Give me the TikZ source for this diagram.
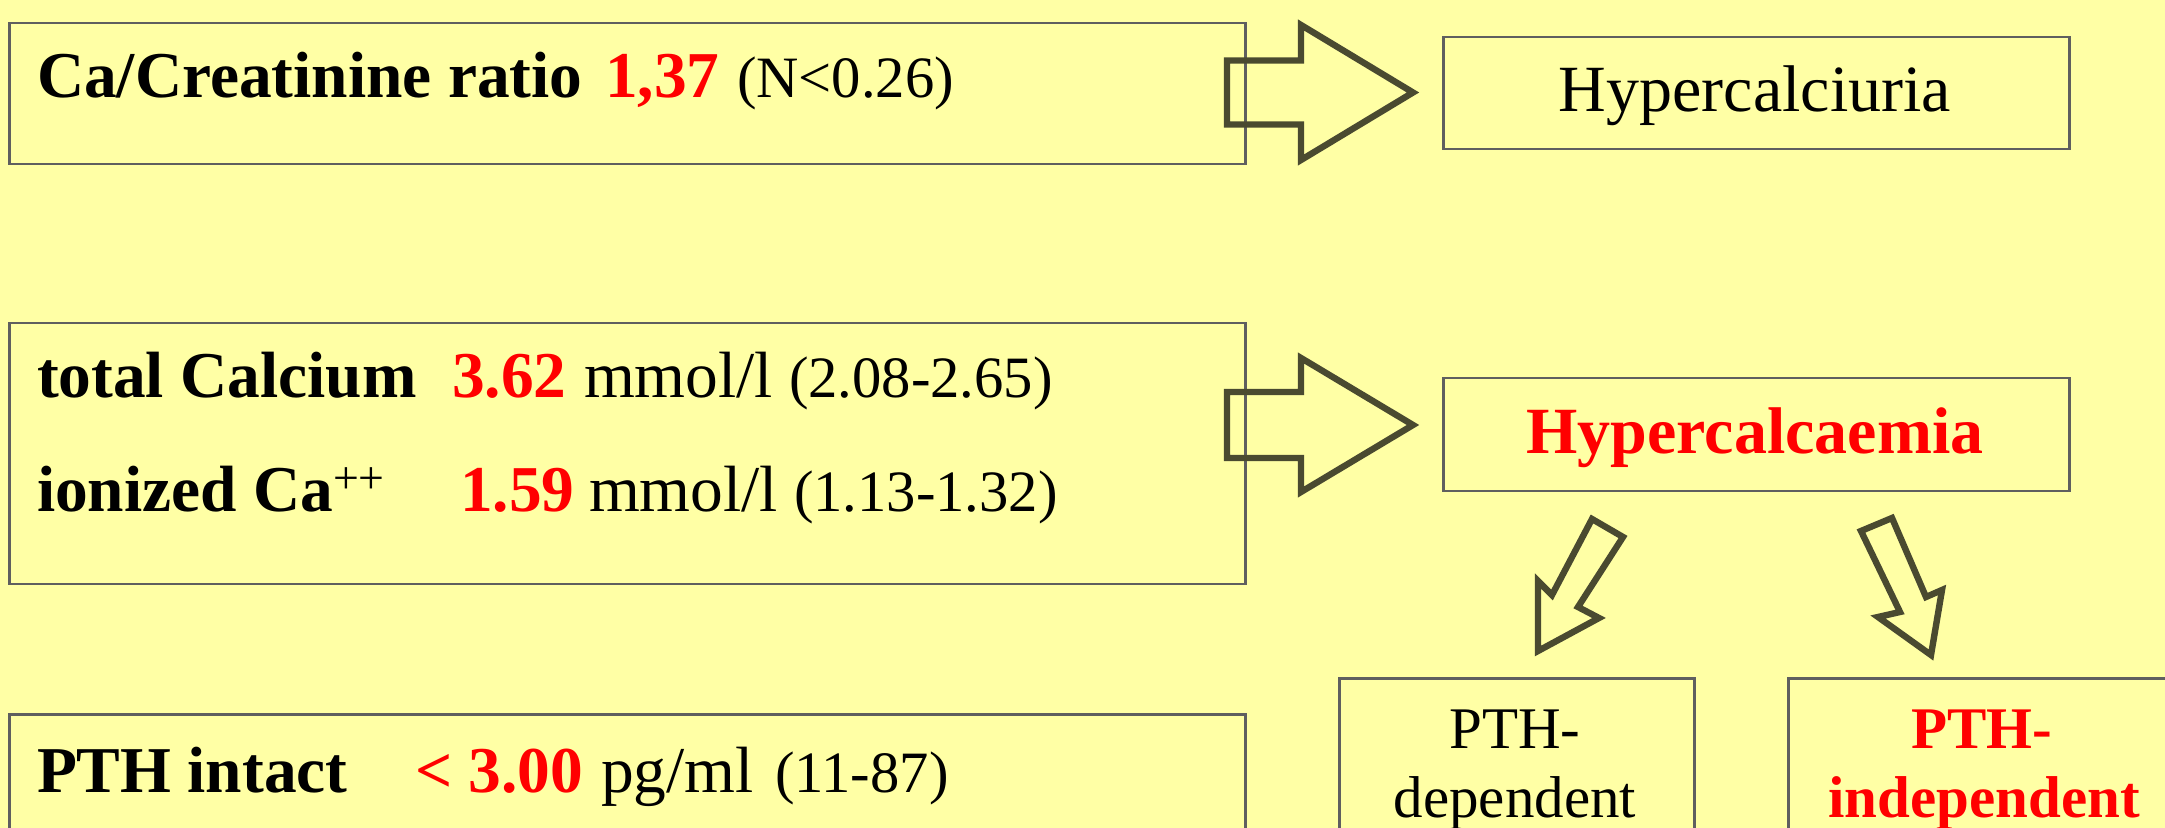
\documentclass[tikz,border=0pt]{standalone}
\usepackage{fontspec}
\setmainfont{Liberation Serif}
\definecolor{bg}{RGB}{255,255,165}
\definecolor{boxline}{RGB}{95,95,95}
\definecolor{arr}{RGB}{74,74,48}
\definecolor{myred}{RGB}{255,0,0}
\begin{document}
\begin{tikzpicture}[x=0.5pt,y=-0.5pt,
  box/.style={draw=boxline, line width=1.25pt, fill=bg, inner sep=0pt, anchor=north west},
  blk/.style={draw=arr, line width=3.2pt, line join=miter},
  main/.style={inner sep=0pt, outer sep=0pt, anchor=base west, font=\fontsize{32.7}{38}\selectfont},
  mainb/.style={main, font=\fontsize{32.7}{38}\selectfont\bfseries},
  redb/.style={mainb, text=myred},
  small/.style={main, font=\fontsize{29.3}{34}\selectfont},
  rtext/.style={inner sep=0pt, outer sep=0pt, anchor=base, font=\fontsize{33}{40}\selectfont},
  btext/.style={inner sep=0pt, outer sep=0pt, anchor=base, font=\fontsize{29.5}{35}\selectfont}
]
\fill[bg] (0,0) rectangle (2165,828);
\useasboundingbox (0,0) rectangle (2165,828);
\begin{scope}
\clip (0,0) rectangle (2165,828);
% boxes
\node[box, minimum width=618pt, minimum height=70.5pt] (b1) at (8,22) {};
\node[box, minimum width=313pt, minimum height=56pt] (hc) at (1442,36) {};
\node[box, minimum width=618pt, minimum height=130.5pt] (b2) at (8,322) {};
\node[box, minimum width=313pt, minimum height=56.5pt] (hcm) at (1442,377) {};
\node[box, minimum width=618pt, minimum height=95pt] (b3) at (8,713) {};
\node[box, minimum width=177.5pt, minimum height=112pt] (pd) at (1338,677) {};
\node[box, minimum width=199pt, minimum height=112pt] (pi) at (1787,677) {};
% block arrows
\draw[blk] (1227,60.5) -- (1301,60.5) -- (1301,25) -- (1413,92.5) -- (1301,160) -- (1301,124.5) -- (1227,124.5) -- cycle;
\draw[blk] (1227,392) -- (1301,392) -- (1301,358) -- (1413,425) -- (1301,492) -- (1301,458) -- (1227,458) -- cycle;
\draw[blk] (1592,519) -- (1623,537) -- (1578,607) -- (1599,618) -- (1538,651) -- (1538,581) -- (1552,595) -- cycle;
\draw[blk] (1861,531) -- (1892,518) -- (1926,597) -- (1942,590) -- (1931,655) -- (1878,617) -- (1900,612) -- cycle;
% texts
\node[mainb] (t1a) at (37,98) {Ca/Creatinine ratio};
\node[redb] (t1b) at (605,98) {1,37};
\node[small] (t1c) at (737,98) {(N<0.26)};
\node[rtext] (t1d) at (1755,112) {Hypercalciuria};
\node[mainb] (t2a) at (37,398) {total Calcium};
\node[redb] (t2b) at (452,398) {3.62};
\node[main] (t2c) at (584,398) {mmol/l};
\node[small] (t2d) at (789,398) {(2.08-2.65)};
\node[mainb] (t3a) at (37,512) {ionized Ca\textsuperscript{\mdseries ++}};
\node[redb] (t3b) at (460,512) {1.59};
\node[main] (t3c) at (589,512) {mmol/l};
\node[small] (t3d) at (794,512) {(1.13-1.32)};
\node[rtext, font=\fontsize{33}{40}\selectfont\bfseries, text=myred] (t3e) at (1755,454) {Hypercalcaemia};
\node[mainb] (t4a) at (37,792) {PTH intact};
\node[redb] (t4b) at (415,792) {< 3.00};
\node[main] (t4c) at (601,792) {pg/ml};
\node[small] (t4d) at (775,792) {(11-87)};
\node[btext] (t5a) at (1515,748) {PTH-};
\node[btext] (t5b) at (1515,817) {dependent};
\node[btext, font=\fontsize{29.5}{35}\selectfont\bfseries, text=myred] (t6a) at (1982,748) {PTH-};
\node[btext, font=\fontsize{29.5}{35}\selectfont\bfseries, text=myred] (t6b) at (1984,817) {independent};
\end{scope}
\end{tikzpicture}
\end{document}
